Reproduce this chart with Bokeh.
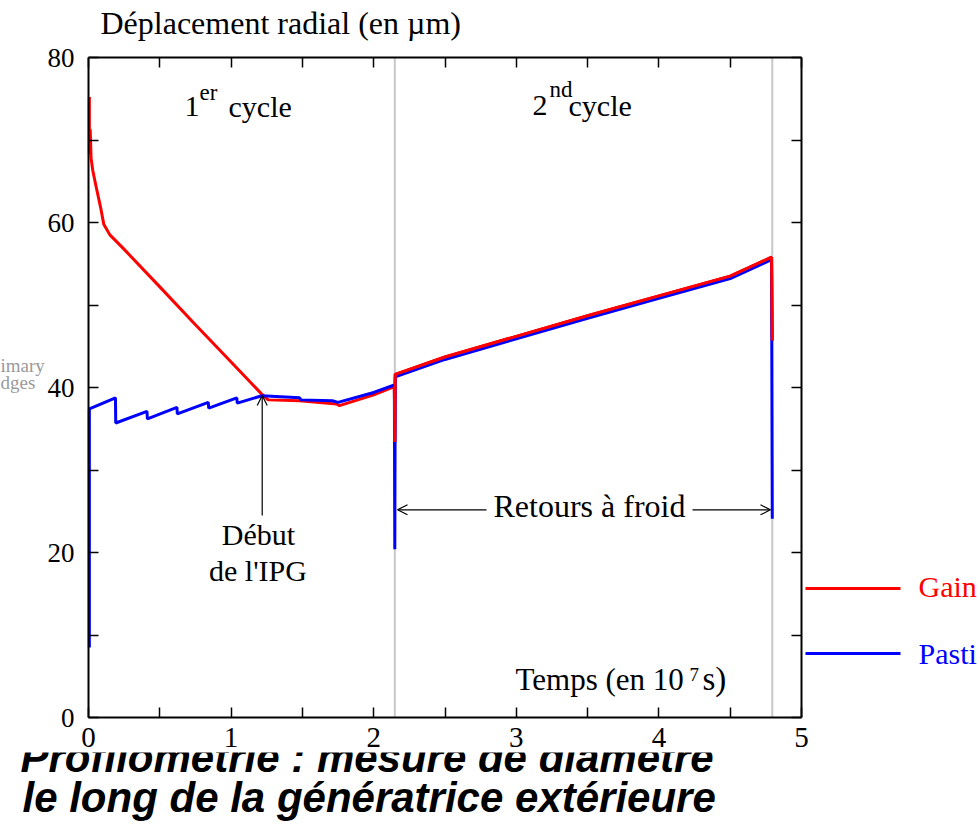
from bokeh.plotting import figure
from bokeh.models import (Range1d, LinearAxis, FixedTicker, Label, Arrow, OpenHead)
from bokeh.core.properties import value
from bokeh.embed import file_html
from bokeh.resources import INLINE

# ---- data (time in 1e7 s, radial displacement in micrometres) ----
gaine_t = [0.006, 0.006, 0.012, 0.018, 0.030, 0.049, 0.084, 0.107, 0.150, 0.247,
           0.500, 0.750, 1.000, 1.215, 1.260, 1.480, 1.740, 1.760, 2.000, 2.145,
           2.148, 2.151, 2.500, 3.000, 3.500, 4.000, 4.500, 4.790, 4.795]
gaine_um = [75.2, 68.3, 71.3, 67.8, 66.3, 64.7, 61.9, 59.8, 58.5, 56.8,
            52.2, 47.6, 43.1, 39.2, 38.5, 38.4, 38.0, 37.8, 39.1, 40.1,
            33.4, 41.6, 43.7, 46.2, 48.7, 51.1, 53.5, 55.8, 45.7]

pastille_t = [0.006, 0.006, 0.189, 0.191, 0.410, 0.413, 0.620, 0.623, 0.840, 0.843,
              1.040, 1.043, 1.215, 1.480, 1.490, 1.710, 1.750, 2.000, 2.145, 2.148,
              2.151, 2.500, 3.000, 3.500, 4.000, 4.500, 4.790, 4.795]
pastille_um = [8.5, 37.4, 38.75, 35.7, 37.1, 36.2, 37.6, 36.8, 38.2, 37.5,
               38.75, 38.1, 39.0, 38.75, 38.5, 38.4, 38.2, 39.4, 40.3, 20.4,
               41.3, 43.4, 45.9, 48.4, 50.8, 53.2, 55.5, 24.1]

cycle_starts = [2.148, 4.795]          # retours a froid (grey markers)
x_major = [0, 1, 2, 3, 4, 5]
x_minor = [0.5, 1.5, 2.5, 3.5, 4.5]
y_major = [0, 20, 40, 60, 80]
y_minor = [10, 30, 50, 70]
X_MAX, Y_MAX = 5, 80

RED = "#ff0000"
BLUE = "#0000ff"
SERIF = "Liberation Serif"

# ---- page geometry (pixels) ----
W, H = 977, 828
PL, PR, PT, PB = 88, 801, 57, 717          # chart box inside the page
SX = (PR - PL) / X_MAX
SY = (PB - PT) / Y_MAX
BASE_SHIFT = 0.35                          # baseline correction (fraction of font size)


def dx(px):
    return (px - PL) / SX


def dy(py):
    return (PB - py) / SY


p = figure(width=W, height=H,
           x_range=Range1d(dx(0), dx(W)), y_range=Range1d(dy(H), dy(0)),
           output_backend="svg", toolbar_location=None,
           x_axis_type=None, y_axis_type=None, min_border=0)
p.outline_line_color = None
p.background_fill_color = "white"
p.border_fill_color = "white"


def make_axis(ticks, minor, loc, bounds, show_labels, size="27px", standoff=8):
    ax = LinearAxis(ticker=FixedTicker(ticks=ticks, minor_ticks=minor),
                    fixed_location=loc, bounds=bounds)
    ax.axis_line_color = "black"
    ax.axis_line_width = 2
    ax.major_tick_in = 10
    ax.major_tick_out = 0
    ax.minor_tick_in = 10
    ax.minor_tick_out = 0
    ax.major_tick_line_width = 1.5
    ax.minor_tick_line_width = 1.5
    ax.major_tick_line_color = "black"
    ax.minor_tick_line_color = "black"
    if show_labels:
        ax.major_label_text_font = SERIF
        ax.major_label_text_font_size = size
        ax.major_label_text_color = "black"
        ax.major_label_standoff = standoff
    else:
        ax.major_label_overrides = {t: "" for t in ticks}
        ax.major_label_standoff = 0
    return ax


# ---- slide caption, partly hidden under the chart picture ----
CAP = 42
p.text(x=[dx(20), dx(22)],
       y=[dy(771.7 - BASE_SHIFT * CAP), dy(811.7 - BASE_SHIFT * CAP)],
       text=["Profilométrie : mesure de diamètre", "le long de la génératrice extérieure"],
       text_font=value("Liberation Sans"), text_font_style="bold italic",
       text_font_size=f"{CAP}px", text_color="black", text_baseline="alphabetic")
p.quad(left=[dx(0)], right=[dx(W)], bottom=[dy(752)], top=[dy(730)],
       fill_color="white", line_color=None)

# ---- grey vertical markers (cold shutdowns) ----
p.segment(x0=cycle_starts, y0=[0] * len(cycle_starts),
          x1=cycle_starts, y1=[Y_MAX] * len(cycle_starts),
          line_color="#c8c8c8", line_width=2)

# ---- curves ----
p.line(gaine_t, gaine_um, line_color=RED, line_width=3)
p.line(pastille_t, pastille_um, line_color=BLUE, line_width=3)
k = gaine_t.index(2.145)
p.line(gaine_t[k:], gaine_um[k:], line_color=RED, line_width=3)

# ---- axes forming the box ----
p.add_layout(make_axis(x_major, x_minor, 0, (0, X_MAX), True, "29px", 10), "below")
p.add_layout(make_axis(y_major, y_minor, 0, (0, Y_MAX), True, "27px", 14), "left")
p.add_layout(make_axis(x_major, x_minor, Y_MAX, (0, X_MAX), False), "above")
p.add_layout(make_axis(y_major, y_minor, X_MAX, (0, Y_MAX), False), "right")


def lab(px, py, text, size=30, align="left", color="black", font=SERIF,
        style="normal"):
    p.add_layout(Label(x=dx(px), y=dy(py - BASE_SHIFT * size), text=text, text_font=font,
                       text_font_size=f"{size}px", text_align=align,
                       text_baseline="alphabetic", text_color=color,
                       text_font_style=style))


# remnants of the slide behind the chart
lab(0, 372, "imary", 19, color="#9a9a9a")
lab(0, 389, "dges", 19, color="#9a9a9a")

# titles and annotations
lab(100, 33.5, "Déplacement radial (en µm)", 32)
lab(184, 116.7, "1", 30)
lab(199, 100, "er", 23)
lab(228, 116.7, "cycle", 30)
lab(532, 115, "2", 30)
lab(549, 97, "nd", 23)
lab(568, 115, "cycle", 30)
lab(258, 544, "Début", 30, align="center")
lab(257.5, 580, "de l'IPG", 30, align="center")
lab(589, 517, "Retours à froid", 32, align="center")
lab(515, 690, "Temps (en 10", 31)
lab(689, 681, "7", 19)
lab(702, 690, "s)", 33)

arrow_kw = dict(line_width=1.2, line_color="black")
p.add_layout(Arrow(x_start=dx(261.7), y_start=dy(515), x_end=dx(261.7), y_end=dy(395),
                   end=OpenHead(size=10, line_width=1.2), **arrow_kw))
p.add_layout(Arrow(x_start=dx(486), y_start=dy(509.3), x_end=dx(397), y_end=dy(509.3),
                   end=OpenHead(size=10, line_width=1.2), **arrow_kw))
p.add_layout(Arrow(x_start=dx(692), y_start=dy(509.3), x_end=dx(770), y_end=dy(509.3),
                   end=OpenHead(size=10, line_width=1.2), **arrow_kw))

# legend beside the chart (cut by the page edge in the original)
p.line([dx(805), dx(900)], [dy(588), dy(588)], line_color=RED, line_width=3)
p.line([dx(805), dx(900)], [dy(653), dy(653)], line_color=BLUE, line_width=3)
lab(918, 596.7, "Gain", 30, color=RED)
lab(918, 663, "Pasti", 30, color=BLUE)

open("out.html", "w").write(file_html(p, INLINE))
